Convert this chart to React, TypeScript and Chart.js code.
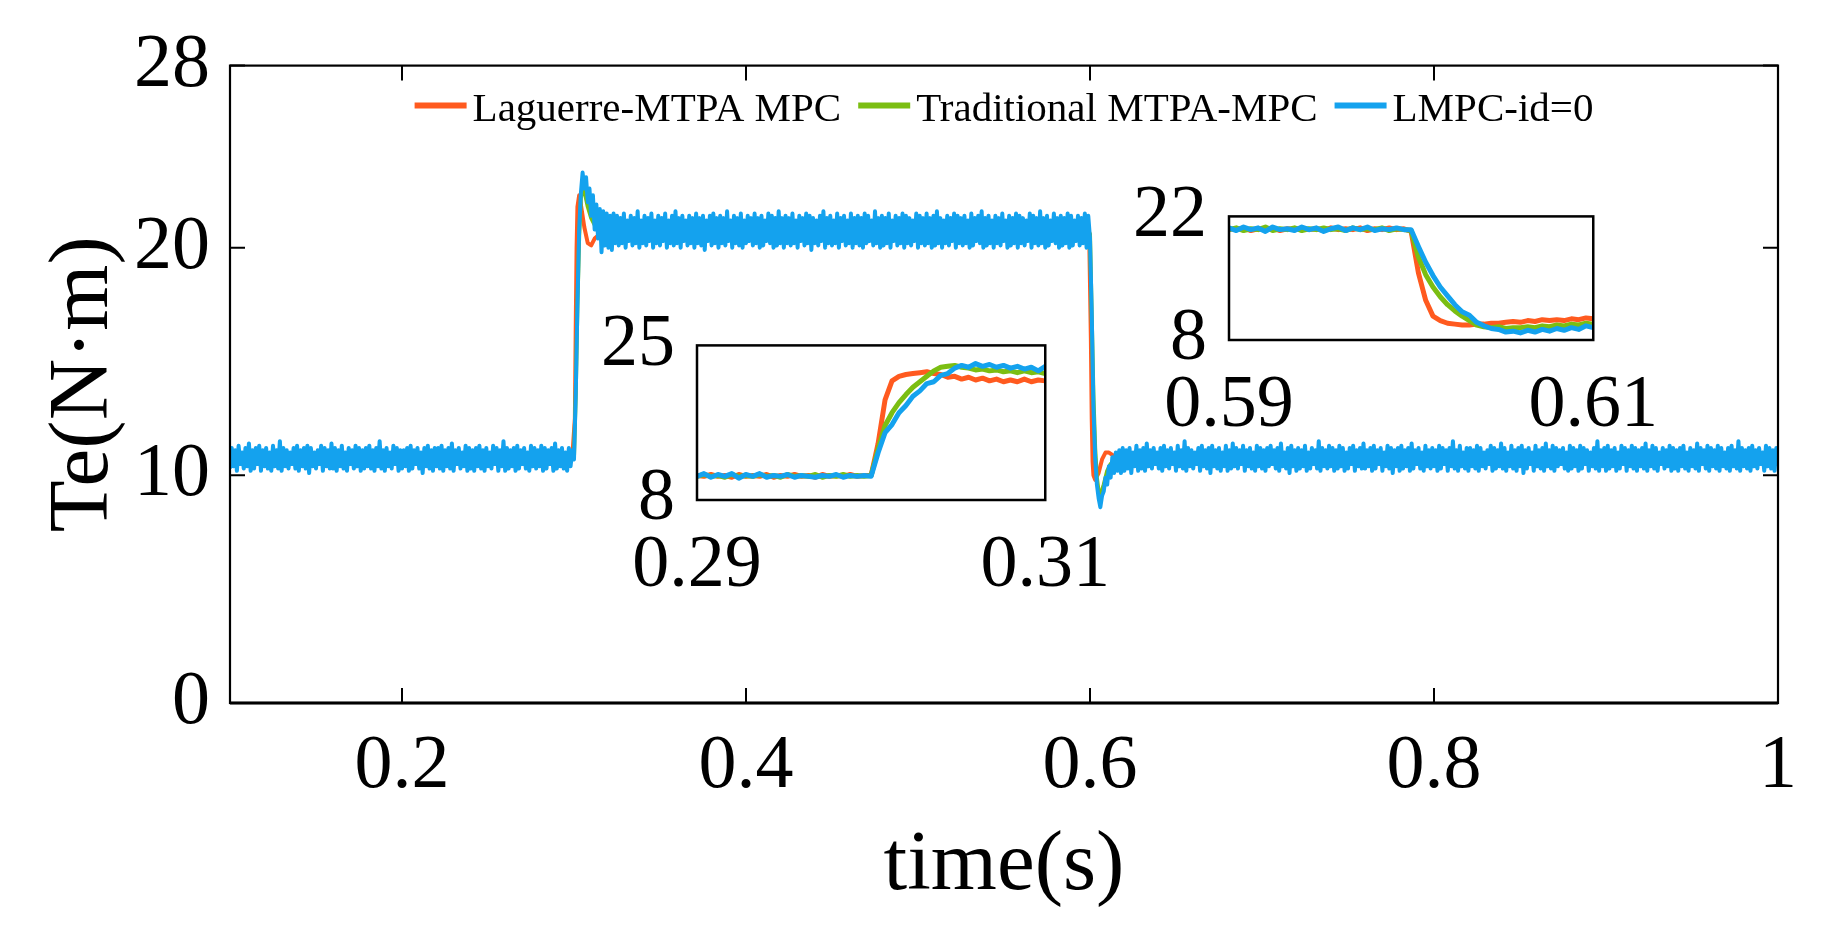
import React, { useEffect, useRef } from "react";
import { Chart, registerables } from "chart.js";

Chart.register(...registerables);

const SERIF = "'Liberation Serif', 'Times New Roman', Times, serif";

// ---------------- series meta ----------------
const seriesNames = ["Laguerre-MTPA MPC", "Traditional MTPA-MPC", "LMPC-id=0"];
const seriesColors = ["#FF5A1F", "#7BBE12", "#14A2EE"];

// ---------------- main axes ----------------
const mainXMin = 0.1;
const mainXMax = 1;
const mainYMin = 0;
const mainYMax = 28;
const mainXTicks = [0.2, 0.4, 0.6, 0.8, 1];
const mainXTickLabels = ["0.2", "0.4", "0.6", "0.8", "1"];
const mainYTicks = [0, 10, 20, 28];
const mainYTickLabels = ["0", "10", "20", "28"];
const xTitle = "time(s)";
const yTitle = "Te(N·m)";

// ---------------- main chart: LMPC-id=0 (sampled every 1 ms from 0.1 s) ----------------
const blueStart = 0.1;
const blueStep = 0.001;
// 0.100 – 0.299 s
const blueLowA = [
  10.3, 11.2, 10.4, 11.1, 10.2, 11.3, 10.5, 11.0, 10.3, 11.2, 10.4, 11.4, 10.2, 11.1, 10.3, 11.2, 10.5, 11.3, 10.2, 11.1,
  10.4, 11.2, 10.3, 11.0, 10.2, 11.3, 10.4, 11.1, 10.3, 11.5, 10.2, 11.2, 10.4, 11.1, 10.3, 11.0, 10.5, 11.2, 10.3, 11.3,
  10.2, 11.1, 10.4, 11.2, 10.3, 11.3, 10.1, 11.2, 10.4, 11.0, 10.3, 11.1, 10.5, 11.3, 10.2, 11.2, 10.4, 11.1, 10.3, 11.4,
  10.3, 11.2, 10.2, 11.1, 10.4, 11.3, 10.3, 11.0, 10.2, 11.2, 10.5, 11.1, 10.3, 11.3, 10.4, 11.2, 10.2, 11.1, 10.3, 11.2,
  10.4, 11.3, 10.3, 11.1, 10.2, 11.2, 10.4, 11.5, 10.3, 11.1, 10.2, 11.2, 10.4, 11.0, 10.3, 11.3, 10.5, 11.2, 10.2, 11.1,
  10.3, 11.1, 10.4, 11.2, 10.2, 11.3, 10.3, 11.1, 10.5, 11.2, 10.3, 11.0, 10.1, 11.2, 10.4, 11.3, 10.3, 11.1, 10.2, 11.2,
  10.4, 11.2, 10.3, 11.3, 10.2, 11.1, 10.4, 11.2, 10.3, 11.4, 10.2, 11.1, 10.5, 11.2, 10.3, 11.0, 10.4, 11.3, 10.2, 11.2,
  10.3, 11.1, 10.2, 11.2, 10.4, 11.3, 10.3, 11.1, 10.2, 11.2, 10.4, 11.0, 10.3, 11.3, 10.5, 11.2, 10.2, 11.1, 10.4, 11.5,
  10.2, 11.2, 10.3, 11.1, 10.4, 11.2, 10.2, 11.3, 10.3, 11.1, 10.5, 11.2, 10.3, 11.0, 10.2, 11.3, 10.4, 11.2, 10.3, 11.1,
  10.4, 11.3, 10.2, 11.2, 10.3, 11.1, 10.5, 11.2, 10.2, 11.4, 10.3, 11.1, 10.4, 11.2, 10.3, 11.0, 10.2, 11.2, 10.4, 11.1,
];
// 0.300 – 0.324 s
const blueStepUp = [
  10.7, 13.5, 17.5, 20.8, 22.4, 23.3, 22.6, 23.1, 22.0, 22.6, 21.4, 22.3, 20.8,
  21.9, 20.4, 21.7, 19.8, 21.6, 20.1, 21.5, 20.0, 21.4, 19.9, 21.5, 20.2,
];
// 0.325 – 0.599 s
const blueHigh = [
  21.4, 20.1, 21.3, 20.2, 21.5, 20.0, 21.2, 20.3, 21.4, 20.1, 21.3, 20.2, 21.6, 20.0, 21.2, 20.2, 21.4, 20.1, 21.3, 20.3,
  21.5, 20.0, 21.2, 20.2, 21.4, 20.1, 21.3, 20.3, 21.5, 20.0, 21.2, 20.2, 21.4, 20.1, 21.6, 20.2, 21.3, 20.0, 21.4, 20.3,
  21.2, 20.1, 21.4, 20.2, 21.3, 20.0, 21.5, 20.2, 21.3, 20.1, 21.4, 19.9, 21.2, 20.3, 21.4, 20.1, 21.5, 20.2, 21.3, 20.0,
  21.4, 20.2, 21.3, 20.1, 21.6, 20.3, 21.2, 20.0, 21.4, 20.2, 21.3, 20.1, 21.5, 20.0, 21.2, 20.2, 21.4, 20.3, 21.3, 20.1,
  21.5, 20.2, 21.3, 20.0, 21.4, 20.1, 21.2, 20.3, 21.5, 20.2, 21.4, 20.0, 21.3, 20.1, 21.6, 20.2, 21.3, 20.0, 21.4, 20.2,
  21.3, 20.1, 21.5, 20.2, 21.2, 20.0, 21.4, 20.3, 21.3, 20.1, 21.5, 20.2, 21.4, 19.9, 21.3, 20.2, 21.2, 20.1, 21.4, 20.3,
  21.6, 20.0, 21.3, 20.2, 21.4, 20.1, 21.2, 20.2, 21.5, 20.0, 21.3, 20.3, 21.4, 20.1, 21.2, 20.2, 21.5, 20.0, 21.3, 20.2,
  21.4, 20.1, 21.3, 20.0, 21.5, 20.2, 21.4, 20.3, 21.2, 20.1, 21.6, 20.2, 21.3, 20.0, 21.4, 20.1, 21.3, 20.2, 21.5, 20.0,
  21.2, 20.3, 21.4, 20.1, 21.3, 20.2, 21.5, 20.0, 21.4, 20.2, 21.3, 20.1, 21.2, 20.3, 21.5, 20.0, 21.4, 20.2, 21.3, 20.1,
  21.5, 20.2, 21.3, 20.0, 21.4, 20.1, 21.6, 20.2, 21.3, 20.0, 21.2, 20.2, 21.4, 20.1, 21.3, 20.3, 21.5, 20.0, 21.4, 20.2,
  21.3, 20.1, 21.4, 20.2, 21.2, 20.0, 21.5, 20.1, 21.3, 20.3, 21.4, 20.2, 21.6, 20.0, 21.3, 20.1, 21.4, 20.2, 21.2, 20.0,
  21.4, 20.2, 21.3, 20.1, 21.5, 20.3, 21.2, 20.0, 21.4, 20.1, 21.3, 20.2, 21.5, 20.0, 21.4, 20.2, 21.3, 20.1, 21.2, 20.3,
  21.5, 20.0, 21.4, 20.2, 21.3, 20.1, 21.6, 20.2, 21.3, 20.0, 21.4, 20.1, 21.2, 20.3, 21.5, 20.2, 21.3, 20.0, 21.4, 20.1,
  21.3, 20.2, 21.5, 20.0, 21.4, 20.1, 21.2, 20.3, 21.4, 20.1, 21.3, 20.2, 21.5, 20.0, 21.4,
];
// 0.600 – 0.619 s
const blueStepDown = [
  20.4, 17.2, 13.0, 10.8, 9.6, 9.0, 8.6, 9.1, 9.3, 9.9,
  9.6, 10.4, 9.9, 10.8, 10.1, 11.0, 10.2, 11.1, 10.1, 11.2,
];
// 0.620 – 1.000 s
const blueLowB = [
  10.2, 11.1, 10.3, 11.2, 10.1, 11.0, 10.4, 11.3, 10.2, 11.1, 10.3, 11.2, 10.2, 11.4, 10.4, 11.1, 10.3, 11.2, 10.5, 11.0,
  10.3, 11.2, 10.2, 11.3, 10.4, 11.1, 10.3, 11.2, 10.5, 11.0, 10.2, 11.3, 10.4, 11.1, 10.3, 11.5, 10.2, 11.2, 10.4, 11.1,
  10.3, 11.0, 10.5, 11.2, 10.2, 11.3, 10.4, 11.1, 10.3, 11.2, 10.1, 11.3, 10.4, 11.1, 10.3, 11.2, 10.2, 11.0, 10.4, 11.3,
  10.2, 11.1, 10.3, 11.4, 10.4, 11.2, 10.3, 11.1, 10.5, 11.3, 10.2, 11.1, 10.4, 11.2, 10.3, 11.0, 10.2, 11.3, 10.4, 11.2,
  10.3, 11.1, 10.2, 11.2, 10.4, 11.3, 10.5, 11.1, 10.3, 11.2, 10.2, 11.4, 10.4, 11.0, 10.3, 11.2, 10.1, 11.3, 10.4, 11.1,
  10.2, 11.2, 10.3, 11.1, 10.4, 11.3, 10.2, 11.0, 10.3, 11.2, 10.5, 11.1, 10.3, 11.5, 10.2, 11.2, 10.4, 11.1, 10.3, 11.3,
  10.4, 11.2, 10.2, 11.1, 10.3, 11.3, 10.4, 11.2, 10.2, 11.0, 10.3, 11.2, 10.5, 11.3, 10.2, 11.1, 10.4, 11.2, 10.3, 11.4,
  10.3, 11.1, 10.4, 11.2, 10.2, 11.3, 10.3, 11.1, 10.5, 11.2, 10.2, 11.0, 10.4, 11.3, 10.3, 11.2, 10.1, 11.1, 10.4, 11.2,
  10.2, 11.3, 10.3, 11.1, 10.4, 11.2, 10.2, 11.4, 10.3, 11.1, 10.5, 11.2, 10.3, 11.0, 10.2, 11.3, 10.4, 11.1, 10.3, 11.2,
  10.4, 11.1, 10.2, 11.3, 10.3, 11.2, 10.5, 11.1, 10.2, 11.2, 10.4, 11.5, 10.3, 11.1, 10.2, 11.3, 10.4, 11.0, 10.3, 11.2,
  10.2, 11.2, 10.4, 11.1, 10.3, 11.3, 10.2, 11.2, 10.4, 11.0, 10.3, 11.1, 10.5, 11.3, 10.2, 11.2, 10.3, 11.1, 10.4, 11.4,
  10.3, 11.2, 10.2, 11.0, 10.4, 11.3, 10.3, 11.1, 10.2, 11.2, 10.4, 11.3, 10.1, 11.1, 10.3, 11.2, 10.5, 11.0, 10.2, 11.3,
  10.4, 11.1, 10.3, 11.2, 10.2, 11.4, 10.4, 11.1, 10.3, 11.3, 10.2, 11.2, 10.4, 11.1, 10.5, 11.2, 10.3, 11.0, 10.2, 11.3,
  10.3, 11.2, 10.4, 11.1, 10.2, 11.3, 10.3, 11.2, 10.5, 11.1, 10.2, 11.0, 10.4, 11.2, 10.3, 11.5, 10.2, 11.1, 10.4, 11.2,
  10.2, 11.3, 10.3, 11.1, 10.4, 11.2, 10.2, 11.0, 10.3, 11.3, 10.5, 11.2, 10.2, 11.1, 10.4, 11.3, 10.3, 11.2, 10.2, 11.1,
  10.4, 11.2, 10.3, 11.4, 10.2, 11.1, 10.4, 11.3, 10.3, 11.2, 10.2, 11.0, 10.5, 11.2, 10.3, 11.1, 10.4, 11.3, 10.2, 11.2,
  10.3, 11.1, 10.2, 11.2, 10.4, 11.3, 10.3, 11.0, 10.2, 11.2, 10.4, 11.1, 10.3, 11.4, 10.2, 11.2, 10.5, 11.1, 10.3, 11.3,
  10.2, 11.2, 10.4, 11.1, 10.3, 11.3, 10.2, 11.2, 10.4, 11.0, 10.3, 11.2, 10.2, 11.3, 10.4, 11.1, 10.3, 11.5, 10.2, 11.2,
  10.4, 11.1, 10.3, 11.2, 10.2, 11.3, 10.4, 11.1, 10.3, 11.2, 10.5, 11.0, 10.2, 11.3, 10.4, 11.2, 10.3, 11.1, 10.2, 11.2,
  10.4,
];

// ---------------- main chart: Laguerre-MTPA MPC ----------------
const orangeMainT = [
  0.1, 0.12, 0.14, 0.16, 0.18, 0.2, 0.22, 0.24, 0.26, 0.28, 0.299,
  0.3005, 0.301, 0.3015, 0.302, 0.303, 0.304, 0.306, 0.308, 0.31, 0.312, 0.315,
  0.32, 0.34, 0.36, 0.38, 0.4, 0.42, 0.44, 0.46, 0.48, 0.5, 0.52, 0.54, 0.56, 0.58, 0.5995,
  0.6005, 0.601, 0.6015, 0.602, 0.603, 0.605, 0.607, 0.609, 0.611, 0.613, 0.615,
  0.62, 0.64, 0.66, 0.68, 0.7, 0.72, 0.74, 0.76, 0.78, 0.8,
  0.82, 0.84, 0.86, 0.88, 0.9, 0.92, 0.94, 0.96, 0.98, 1.0,
];
const orangeMainY = [
  10.8, 10.7, 10.9, 10.7, 10.8, 10.9, 10.7, 10.8, 10.7, 10.9, 10.8,
  12.5, 16.5, 20.0, 21.8, 22.3, 21.9, 20.9, 20.2, 20.1, 20.4, 20.6,
  20.8, 20.7, 20.9, 20.6, 20.8, 20.7, 20.9, 20.7, 20.8, 20.6, 20.8, 20.7, 20.9, 20.7, 20.7,
  16.0, 12.5, 10.6, 10.0, 9.8, 10.1, 10.7, 11.0, 11.0, 10.9, 10.8,
  10.8, 10.7, 10.9, 10.8, 10.7, 10.8, 10.9, 10.7, 10.8, 10.7,
  10.9, 10.8, 10.7, 10.8, 10.9, 10.7, 10.8, 10.7, 10.8, 10.9,
];

// ---------------- main chart: Traditional MTPA-MPC ----------------
const greenMainT = [
  0.1, 0.12, 0.14, 0.16, 0.18, 0.2, 0.22, 0.24, 0.26, 0.28,
  0.3, 0.301, 0.302, 0.303, 0.304, 0.305, 0.306, 0.308, 0.31, 0.312, 0.315,
  0.32, 0.34, 0.36, 0.38, 0.4, 0.42, 0.44, 0.46, 0.48, 0.5, 0.52, 0.54, 0.56, 0.58,
  0.6, 0.601, 0.602, 0.603, 0.604, 0.605, 0.606, 0.608, 0.61, 0.612, 0.615,
  0.62, 0.64, 0.66, 0.68, 0.7, 0.72, 0.74, 0.76, 0.78, 0.8,
  0.82, 0.84, 0.86, 0.88, 0.9, 0.92, 0.94, 0.96, 0.98, 1.0,
];
const greenMainY = [
  10.7, 10.9, 10.8, 10.7, 10.9, 10.8, 10.7, 10.9, 10.8, 10.7,
  10.8, 13.5, 17.5, 20.5, 22.2, 22.6, 22.5, 21.8, 21.3, 21.0, 20.8,
  20.7, 20.8, 20.6, 20.9, 20.7, 20.8, 20.6, 20.8, 20.7, 20.9, 20.7, 20.8, 20.6, 20.7,
  20.6, 17.0, 13.5, 11.2, 9.9, 9.3, 9.1, 9.6, 10.2, 10.5, 10.7,
  10.8, 10.7, 10.9, 10.8, 10.7, 10.9, 10.8, 10.7, 10.8, 10.9,
  10.7, 10.8, 10.9, 10.7, 10.8, 10.7, 10.9, 10.8, 10.7, 10.8,
];

// ---------------- inset 1 (0.29 – 0.31 s, sampled every 0.4 ms) ----------------
const insetStep = 0.0004;
const inset1Start = 0.29;
const inset1XTicks = [0.29, 0.31];
const inset1XTickLabels = ["0.29", "0.31"];
const inset1YTicks = [8, 25];
const inset1YTickLabels = ["8", "25"];
const inset1Orange = [
  10.7, 10.6, 10.8, 10.6, 10.7, 10.5, 10.8, 10.6, 10.7, 10.6, 10.8, 10.5, 10.7,
  10.6, 10.8, 10.6, 10.7, 10.5, 10.8, 10.6, 10.7, 10.6, 10.8, 10.6, 10.7, 10.7,
  14.2, 19.0, 21.1, 21.6, 21.8, 21.9, 22.0, 22.1, 21.9, 21.8, 21.5, 21.6, 21.3,
  21.5, 21.2, 21.4, 21.1, 21.3, 21.0, 21.2, 21.0, 21.3, 21.0, 21.2, 21.1,
];
const inset1Green = [
  10.6, 10.8, 10.6, 10.7, 10.5, 10.8, 10.6, 10.7, 10.6, 10.8, 10.6, 10.7, 10.5,
  10.8, 10.6, 10.7, 10.6, 10.8, 10.5, 10.7, 10.6, 10.8, 10.6, 10.7, 10.6, 10.7,
  13.6, 16.2, 17.6, 18.7, 19.6, 20.4, 21.0, 21.6, 22.2, 22.6, 22.7, 22.8, 22.6,
  22.5, 22.3, 22.4, 22.2, 22.3, 22.1, 22.2, 22.0, 22.2, 22.0, 22.1, 21.9,
];
const inset1Blue = [
  10.6, 10.9, 10.5, 10.8, 10.6, 10.9, 10.4, 10.8, 10.6, 10.9, 10.5, 10.7, 10.6,
  10.8, 10.5, 10.7, 10.6, 10.5, 10.7, 10.6, 10.8, 10.5, 10.7, 10.6, 10.7, 10.6,
  13.2, 15.4, 16.3, 17.6, 18.4, 19.4, 20.0, 20.8, 21.0, 21.7, 21.9, 22.5, 22.8,
  22.6, 23.0, 22.7, 22.9, 22.6, 22.8, 22.5, 22.7, 22.4, 22.6, 22.2, 22.7,
];

// ---------------- inset 2 (0.59 – 0.61 s, sampled every 0.4 ms) ----------------
const inset2Start = 0.59;
const inset2XTicks = [0.59, 0.61];
const inset2XTickLabels = ["0.59", "0.61"];
const inset2YTicks = [8, 22];
const inset2YTickLabels = ["8", "22"];
const inset2Orange = [
  20.6, 20.5, 20.7, 20.4, 20.6, 20.5, 20.7, 20.4, 20.6, 20.5, 20.7, 20.5, 20.6,
  20.4, 20.7, 20.5, 20.6, 20.5, 20.7, 20.4, 20.6, 20.5, 20.7, 20.5, 20.6, 20.3,
  15.6, 12.5, 10.7, 10.2, 9.9, 9.8, 9.7, 9.7, 9.8, 9.8, 9.9, 9.9, 10.0,
  10.1, 10.0, 10.2, 10.1, 10.3, 10.2, 10.3, 10.2, 10.4, 10.3, 10.5, 10.4,
];
const inset2Green = [
  20.5, 20.7, 20.4, 20.6, 20.5, 20.8, 20.4, 20.6, 20.5, 20.7, 20.4, 20.6, 20.5,
  20.7, 20.5, 20.6, 20.4, 20.7, 20.5, 20.6, 20.5, 20.7, 20.4, 20.6, 20.5, 20.4,
  17.4, 15.4, 14.0, 12.9, 12.0, 11.3, 10.7, 10.2, 9.7, 9.5, 9.4, 9.5, 9.3,
  9.4, 9.4, 9.5, 9.4, 9.6, 9.5, 9.7, 9.6, 9.8, 9.7, 9.9, 9.8,
];
const inset2Blue = [
  20.7, 20.4, 20.8, 20.5, 20.7, 20.3, 20.8, 20.5, 20.6, 20.4, 20.8, 20.5, 20.7,
  20.3, 20.6, 20.8, 20.4, 20.7, 20.5, 20.8, 20.4, 20.6, 20.5, 20.7, 20.5, 20.5,
  18.6, 16.8, 15.3, 14.0, 13.0, 12.0, 11.2, 10.8, 10.0, 9.6, 9.3, 9.2, 8.9,
  9.0, 8.8, 9.1, 8.9, 9.2, 9.0, 9.3, 9.1, 9.4, 9.2, 9.6, 9.4,
];

// ---------------- helpers ----------------
type Pt = { x: number; y: number };
const timeGrid = (start: number, step: number, n: number) =>
  Array.from({ length: n }, (_, i) => Math.round((start + i * step) * 1e6) / 1e6);
const zip = (xs: number[], ys: number[]): Pt[] => ys.map((y, i) => ({ x: xs[i], y }));

const blueMainY = [...blueLowA, ...blueStepUp, ...blueHigh, ...blueStepDown, ...blueLowB];
const blueMainT = timeGrid(blueStart, blueStep, blueMainY.length);

// frame + inward ticks (MATLAB box style)
const frameTicksPlugin = {
  id: "frameTicks",
  beforeDatasetsDraw(chart: any, _args: any, opts: any) {
    if (!opts.fill) return;
    const { ctx, chartArea: a } = chart;
    ctx.save();
    ctx.fillStyle = opts.fill;
    ctx.fillRect(a.left, a.top, a.right - a.left, a.bottom - a.top);
    ctx.restore();
  },
  afterDatasetsDraw(chart: any, _args: any, opts: any) {
    const { ctx, chartArea: a, scales } = chart;
    ctx.save();
    ctx.strokeStyle = "#000";
    const L = opts.tickLength || 0;
    if (L > 0) {
      ctx.lineWidth = opts.tickWidth || 1.5;
      ctx.beginPath();
      scales.x.ticks.forEach((t: any) => {
        const p = scales.x.getPixelForValue(t.value);
        ctx.moveTo(p, a.bottom);
        ctx.lineTo(p, a.bottom - L);
        ctx.moveTo(p, a.top);
        ctx.lineTo(p, a.top + L);
      });
      scales.y.ticks.forEach((t: any) => {
        const p = scales.y.getPixelForValue(t.value);
        ctx.moveTo(a.left, p);
        ctx.lineTo(a.left + L, p);
        ctx.moveTo(a.right, p);
        ctx.lineTo(a.right - L, p);
      });
      ctx.stroke();
    }
    ctx.lineWidth = opts.lineWidth || 2;
    ctx.strokeRect(a.left, a.top, a.right - a.left, a.bottom - a.top);
    if (opts.bottomWidth) {
      ctx.lineWidth = opts.bottomWidth;
      ctx.beginPath();
      ctx.moveTo(a.left, a.bottom);
      ctx.lineTo(a.right, a.bottom);
      ctx.stroke();
    }
    ctx.restore();
  },
};

// horizontal legend drawn inside the plot area, centred
const insideLegendPlugin = {
  id: "insideLegend",
  afterDraw(chart: any, _args: any, opts: any) {
    const { ctx, chartArea: a } = chart;
    ctx.save();
    ctx.font = `${opts.fontSize}px ${SERIF}`;
    const items = chart.data.datasets.map((ds: any) => ({
      label: ds.label as string,
      color: ds.borderColor as string,
      w: ctx.measureText(ds.label).width,
    }));
    const total =
      items.reduce((s: number, it: any) => s + opts.lineLen + opts.gap + it.w, 0) +
      opts.itemGap * (items.length - 1);
    let x = (a.left + a.right) / 2 - total / 2;
    const lineY = a.top + opts.lineOffset;
    const baseY = a.top + opts.baselineOffset;
    for (const it of items) {
      ctx.strokeStyle = it.color;
      ctx.lineWidth = opts.lineWidth;
      ctx.lineCap = "butt";
      ctx.beginPath();
      ctx.moveTo(x, lineY);
      ctx.lineTo(x + opts.lineLen, lineY);
      ctx.stroke();
      x += opts.lineLen + opts.gap;
      ctx.fillStyle = "#000";
      ctx.textBaseline = "alphabetic";
      ctx.textAlign = "left";
      ctx.fillText(it.label, x, baseY);
      x += it.w + opts.itemGap;
    }
    ctx.restore();
  },
};

function axisConfig(
  min: number,
  max: number,
  tickValues: number[],
  tickLabels: string[],
  fontSize: number,
  padding: number,
  fitSize: number,
  horizontal: boolean,
  title?: { text: string; size: number; padding: any }
) {
  return {
    type: "linear",
    min,
    max,
    afterBuildTicks: (s: any) => {
      s.ticks = tickValues.map((v) => ({ value: v }));
    },
    afterFit: (s: any) => {
      if (horizontal) s.height = fitSize;
      else s.width = fitSize;
    },
    grid: { display: false, drawTicks: false },
    border: { display: false },
    ticks: {
      color: "#000",
      font: { family: SERIF, size: fontSize },
      padding,
      autoSkip: false,
      maxRotation: 0,
      minRotation: 0,
      callback: (_v: any, i: number) => tickLabels[i],
    },
    title: title
      ? {
          display: true,
          text: title.text,
          color: "#000",
          font: { family: SERIF, size: title.size },
          padding: title.padding,
        }
      : { display: false },
  };
}

function lineDataset(label: string, color: string, data: Pt[], order: number, width: number) {
  return {
    label,
    data,
    borderColor: color,
    backgroundColor: color,
    borderWidth: width,
    pointRadius: 0,
    tension: 0,
    fill: false,
    borderJoinStyle: "round",
    order,
  };
}

function mainConfig(): any {
  return {
    type: "line",
    data: {
      datasets: [
        lineDataset(seriesNames[0], seriesColors[0], zip(orangeMainT, orangeMainY), 2, 4),
        lineDataset(seriesNames[1], seriesColors[1], zip(greenMainT, greenMainY), 1, 4),
        lineDataset(seriesNames[2], seriesColors[2], zip(blueMainT, blueMainY), 0, 4),
      ],
    },
    options: {
      responsive: false,
      animation: false,
      events: [],
      layout: { padding: { left: 0, top: 59, right: 61, bottom: 0 } },
      plugins: {
        legend: { display: false },
        tooltip: { enabled: false },
        frameTicks: { lineWidth: 2.2, tickLength: 15, tickWidth: 2, bottomWidth: 3 },
        insideLegend: {
          fontSize: 41,
          lineLen: 52,
          gap: 6,
          itemGap: 17,
          lineWidth: 6,
          lineOffset: 40,
          baselineOffset: 55,
        },
      },
      scales: {
        x: axisConfig(mainXMin, mainXMax, mainXTicks, mainXTickLabels, 76, 18, 247, true, {
          text: xTitle,
          size: 85,
          padding: { top: 0, bottom: 32 },
        }),
        y: axisConfig(mainYMin, mainYMax, mainYTicks, mainYTickLabels, 76, 20, 230, false, {
          text: yTitle,
          size: 85,
          padding: { top: 34, bottom: 0 },
        }),
      },
    },
    plugins: [frameTicksPlugin, insideLegendPlugin],
  };
}

function insetConfig(
  start: number,
  orange: number[],
  green: number[],
  blue: number[],
  xTicks: number[],
  xLabels: string[],
  yTicks: number[],
  yLabels: string[],
  pad: { top: number; right: number },
  yWidth: number,
  xHeight: number
): any {
  const t = timeGrid(start, insetStep, blue.length);
  return {
    type: "line",
    data: {
      datasets: [
        lineDataset(seriesNames[0], seriesColors[0], zip(t, orange), 2, 5),
        lineDataset(seriesNames[1], seriesColors[1], zip(t, green), 1, 5),
        lineDataset(seriesNames[2], seriesColors[2], zip(t, blue), 0, 5),
      ],
    },
    options: {
      responsive: false,
      animation: false,
      events: [],
      layout: { padding: { left: 0, top: pad.top, right: pad.right, bottom: 0 } },
      plugins: {
        legend: { display: false },
        tooltip: { enabled: false },
        frameTicks: { lineWidth: 2.5, tickLength: 0, fill: "#ffffff" },
      },
      scales: {
        x: axisConfig(xTicks[0], xTicks[xTicks.length - 1], xTicks, xLabels, 74, 22, xHeight, true),
        y: axisConfig(yTicks[0], yTicks[yTicks.length - 1], yTicks, yLabels, 74, 22, yWidth, false),
      },
    },
    plugins: [frameTicksPlugin],
  };
}

function ChartCanvas(props: {
  make: () => any;
  left: number;
  top: number;
  width: number;
  height: number;
}) {
  const ref = useRef<HTMLCanvasElement>(null);
  useEffect(() => {
    const chart = new Chart(ref.current as HTMLCanvasElement, props.make());
    return () => chart.destroy();
  }, []);
  return (
    <canvas
      ref={ref}
      width={props.width}
      height={props.height}
      style={{
        position: "absolute",
        left: props.left,
        top: props.top,
        width: props.width,
        height: props.height,
      }}
    />
  );
}

export default function App() {
  return (
    <div
      style={{
        position: "absolute",
        left: 0,
        top: 0,
        width: 1839,
        height: 950,
        background: "#ffffff",
        overflow: "hidden",
      }}
    >
      <ChartCanvas make={mainConfig} left={0} top={0} width={1839} height={950} />
      <ChartCanvas
        make={() =>
          insetConfig(
            inset1Start,
            inset1Orange,
            inset1Green,
            inset1Blue,
            inset1XTicks,
            inset1XTickLabels,
            inset1YTicks,
            inset1YTickLabels,
            { top: 50, right: 80 },
            137,
            110
          )
        }
        left={560}
        top={279}
        width={572}
        height={331}
      />
      <ChartCanvas
        make={() =>
          insetConfig(
            inset2Start,
            inset2Orange,
            inset2Green,
            inset2Blue,
            inset2XTicks,
            inset2XTickLabels,
            inset2YTicks,
            inset2YTickLabels,
            { top: 55, right: 81 },
            129,
            110
          )
        }
        left={1100}
        top={150}
        width={580}
        height={300}
      />
    </div>
  );
}
